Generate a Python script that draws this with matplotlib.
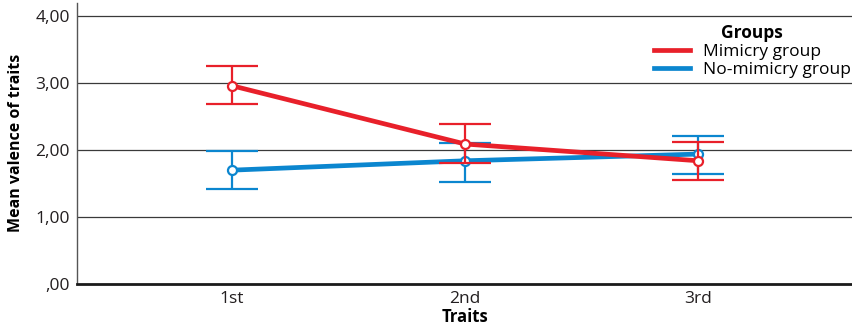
import matplotlib
matplotlib.use("Agg")
import matplotlib.pyplot as plt
from matplotlib.lines import Line2D

plt.rcParams['font.family'] = ['Open Sans', 'DejaVu Sans']

traits = ["1st", "2nd", "3rd"]
mimicry_mean = [2.96, 2.09, 1.84]
mimicry_low = [2.69, 1.81, 1.55]
mimicry_high = [3.25, 2.39, 2.12]
nomimicry_mean = [1.70, 1.84, 1.94]
nomimicry_low = [1.42, 1.52, 1.64]
nomimicry_high = [1.99, 2.10, 2.21]
yticks = [0, 1, 2, 3, 4]
ytick_labels = [",00", "1,00", "2,00", "3,00", "4,00"]

red = "#e8202a"
blue = "#0b86cf"

fig = plt.figure(figsize=(8.52, 3.33), dpi=100)
ax = fig.add_axes([0.0904, 0.147, 0.9096, 0.845])

x = list(range(len(traits)))

for y in yticks[1:]:
    ax.axhline(y, color="#3a3a3a", lw=0.9, zorder=0)

def draw_group(mean, low, high, color, z):
    yerr = [[m - l for m, l in zip(mean, low)], [h - m for m, h in zip(mean, high)]]
    ax.errorbar(x, mean, yerr=yerr, fmt="none", ecolor=color, elinewidth=1.6,
                capsize=18.5, capthick=1.6, zorder=z)
    ax.plot(x, mean, color=color, lw=3.4, zorder=z + 0.5,
            marker="o", markersize=6.5, markerfacecolor="white",
            markeredgecolor=color, markeredgewidth=1.6, solid_capstyle="butt")

draw_group(nomimicry_mean, nomimicry_low, nomimicry_high, blue, 2)
draw_group(mimicry_mean, mimicry_low, mimicry_high, red, 3)

ax.set_xlim(-0.665, 2.66)
ax.set_ylim(0, 4.2)
ax.set_xticks(x)
ax.set_xticklabels(traits, fontsize=12.5)
ax.set_yticks(yticks)
ax.set_yticklabels(ytick_labels, fontsize=12.5)
ax.tick_params(axis="both", length=0, pad=5, colors="#231f20")

ax.spines["top"].set_visible(False)
ax.spines["right"].set_visible(False)
ax.spines["left"].set_color("#555555")
ax.spines["left"].set_linewidth(1.0)
ax.spines["bottom"].set_color("#1a1a1a")
ax.spines["bottom"].set_linewidth(2.0)

ax.set_xlabel("Traits", fontsize=12, fontweight="bold", labelpad=1)
ax.set_ylabel("Mean valence of traits", fontsize=11.5, fontweight="bold", labelpad=8)

lh = [Line2D([0], [0], color=red, lw=3.4), Line2D([0], [0], color=blue, lw=3.4)]
leg = ax.legend(lh, ["Mimicry group", "No-mimicry group"], title="Groups",
                loc="upper right", bbox_to_anchor=(0.998, 0.925), frameon=False,
                fontsize=12.5, title_fontproperties={"weight": "bold", "size": 12.5},
                handlelength=2.1, handletextpad=0.7, labelspacing=0.12,
                borderaxespad=0.0, borderpad=0.0)

fig.savefig("out.png", dpi=100)
